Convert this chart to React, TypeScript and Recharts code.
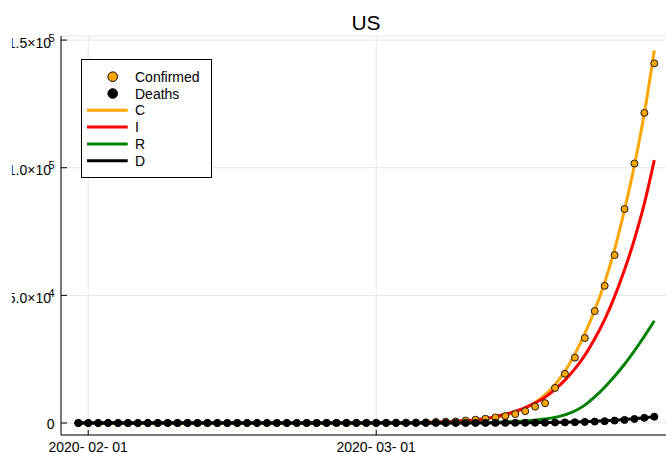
import { ComposedChart, Line, XAxis, YAxis, CartesianGrid, Legend } from "recharts";

// days shown on the x axis (Jan 31 .. Mar 29, 2020)
const dates = [
  "2020-01-31",
  "2020-02-01", "2020-02-02", "2020-02-03", "2020-02-04", "2020-02-05", "2020-02-06", "2020-02-07",
  "2020-02-08", "2020-02-09", "2020-02-10", "2020-02-11", "2020-02-12", "2020-02-13", "2020-02-14",
  "2020-02-15", "2020-02-16", "2020-02-17", "2020-02-18", "2020-02-19", "2020-02-20", "2020-02-21",
  "2020-02-22", "2020-02-23", "2020-02-24", "2020-02-25", "2020-02-26", "2020-02-27", "2020-02-28",
  "2020-02-29",
  "2020-03-01", "2020-03-02", "2020-03-03", "2020-03-04", "2020-03-05", "2020-03-06", "2020-03-07",
  "2020-03-08", "2020-03-09", "2020-03-10", "2020-03-11", "2020-03-12", "2020-03-13", "2020-03-14",
  "2020-03-15", "2020-03-16", "2020-03-17", "2020-03-18", "2020-03-19", "2020-03-20", "2020-03-21",
  "2020-03-22", "2020-03-23", "2020-03-24", "2020-03-25", "2020-03-26", "2020-03-27", "2020-03-28",
  "2020-03-29",
];

// observed
const confirmed = [
  7,
  8, 8, 11, 11, 11, 11, 11, 11, 11, 11, 12, 12, 13, 13, 13, 13, 13, 13, 13, 13, 15, 15, 15, 51, 51, 57, 58, 60, 68,
  74, 98, 118, 149, 217, 262, 402, 518, 583, 959, 1281, 1663, 2179, 2727, 3499, 4632, 6421, 7783, 13747, 19273,
  25600, 33276, 43847, 53740, 65778, 83836, 101657, 121478, 140886,
];
const deaths = [
  0,
  0, 0, 0, 0, 0, 0, 0, 0, 0, 0, 0, 0, 0, 0, 0, 0, 0, 0, 0, 0, 0, 0, 0, 0, 0, 0, 0, 0, 1,
  1, 6, 7, 11, 12, 14, 17, 21, 22, 28, 36, 40, 47, 54, 63, 85, 108, 118, 200, 244,
  307, 427, 552, 706, 942, 1209, 1581, 2026, 2467,
];

// model curves
const modelC = [
  5, 5, 5, 5, 6, 6, 6, 6, 6, 7, 7, 7, 7, 8, 8, 8, 9, 9, 9, 10, 10,
  11, 12, 13, 14, 16, 18, 22, 30, 40, 54,
  74, 100, 135, 180, 240, 320, 430, 600, 830, 1150,
  1600, 2200, 3050, 4200, 5800, 8000, 11000, 15000, 20300, 27000,
  35000, 44200, 55000, 68000, 83500, 101000, 121500, 146000,
];
const modelI = [
  3, 3, 3, 3, 3, 4, 4, 4, 4, 4, 5, 5, 5, 5, 6, 6, 6, 7, 7, 8, 8, 9, 10, 11, 12, 14,
  17, 22, 30, 41, 56, 77, 105, 144, 197, 270, 370, 505, 690, 950, 1300,
  1800, 2500, 3400, 4600, 6000, 7900, 10100, 13200, 16800, 21200,
  26500, 33000, 40500, 49500, 60000, 72000, 86000, 103000,
];
const modelR = [
  0, 0, 0, 0, 0, 0, 0, 0, 0, 0, 0, 0, 0, 0, 0, 0, 0, 0, 0, 0, 0, 0, 0, 0, 0, 0,
  1, 2, 3, 4, 6, 8, 11, 16, 22, 30, 42, 58, 80, 110, 155,
  215, 300, 420, 580, 800, 1100, 1550, 2200, 3200, 4700,
  7000, 10200, 14000, 18300, 23000, 28300, 34000, 40000,
];
const modelD = [
  0, 0, 0, 0, 0, 0, 0, 0, 0, 0, 0, 0, 0, 0, 0, 0, 0, 0, 0, 0, 0, 0, 0, 0, 0, 0, 0, 0, 0, 0, 0, 0,
  1, 2, 3, 4, 5, 7, 10, 14, 19, 26, 36, 50, 70, 95, 130, 175, 235, 310, 410, 530,
  680, 870, 1100, 1380, 1700, 2080, 2500,
];

const xTicks = [0, 29];
const xTickLabels = ["2020- 02- 01", "2020- 03- 01"];
const yTicks = [0, 50000, 100000, 150000];
const yTickLabels = ["0", "5.0×10", "1.0×10", "1.5×10"];
const yTickPowers = ["", "4", "5", "5"];

const seriesNames = ["Confirmed", "Deaths", "C", "I", "R", "D"];
const seriesColors = ["#FFA500", "#000000", "#FFA500", "#FF0000", "#008000", "#000000"];

const DAY = 86400000;
const origin = Date.parse("2020-02-01");

const data = dates.map((d, i) => ({
  day: (Date.parse(d) - origin) / DAY,
  confirmed: confirmed[i],
  deaths: deaths[i],
  C: modelC[i],
  I: modelI[i],
  R: modelR[i],
  D: modelD[i],
}));

const XTick = (props: any) => {
  const { x, y, payload } = props;
  const i = xTicks.indexOf(payload.value);
  return (
    <g>
      <line x1={x} x2={x} y1={y} y2={y - 5} stroke="#000" />
      <text x={x} y={y + 16.5} textAnchor="middle" fontSize={14} fill="#000">
        {xTickLabels[i]}
      </text>
    </g>
  );
};

const YTick = (props: any) => {
  const { x, y, payload } = props;
  const i = yTicks.indexOf(payload.value);
  const pow = yTickPowers[i];
  return (
    <g>
      <line x1={x} x2={x + 6} y1={y} y2={y} stroke="#000" />
      {pow ? (
        <>
          <text x={x - 10} y={y + 7.7} textAnchor="end" fontSize={14} fill="#000">
            {yTickLabels[i]}
          </text>
          <text x={x - 12.5} y={y + 1.7} fontSize={11} fill="#000">
            {pow}
          </text>
        </>
      ) : (
        <text x={x - 6.5} y={y + 6.3} textAnchor="end" fontSize={14} fill="#000">
          {yTickLabels[i]}
        </text>
      )}
    </g>
  );
};

const LegendBox = () => (
  <svg width={131} height={120}>
    <rect x={0.5} y={0.5} width={130} height={118} fill="#fff" stroke="#000" />
    {seriesNames.map((name, i) => {
      const cy = 17.7 + i * 16.8;
      return (
        <g key={name}>
          {i < 2 ? (
            <circle cx={31.7} cy={cy} r={4.8} fill={seriesColors[i]} stroke="#000" />
          ) : (
            <line x1={6} x2={46.7} y1={cy} y2={cy} stroke={seriesColors[i]} strokeWidth={3} />
          )}
          <text x={54} y={cy + 5} fontSize={14} fill="#000">
            {name}
          </text>
        </g>
      );
    })}
  </svg>
);

const App = () => {
  return (
    <div
      style={{
        position: "fixed",
        left: 0,
        top: 0,
        width: 666,
        height: 452,
        overflow: "hidden",
        background: "#fff",
        fontFamily: "'Liberation Sans', Arial, sans-serif",
      }}
    >
      <div style={{ position: "absolute", left: 12, top: 0, width: 654, height: 452, overflow: "hidden" }}>
        <ComposedChart width={668} height={452} data={data} margin={{ top: 36, right: 8.4, bottom: 0, left: 0 }}>
          <CartesianGrid stroke="#e6e6e6" />
          <XAxis
            dataKey="day"
            type="number"
            domain={[-2.74, 58.74]}
            ticks={xTicks}
            allowDataOverflow
            interval={0}
            height={17}
            tickSize={0}
            tickMargin={0}
            tickLine={false}
            axisLine={{ stroke: "#000" }}
            tick={<XTick />}
          />
          <YAxis
            type="number"
            domain={[-4700, 151600]}
            ticks={yTicks}
            allowDataOverflow
            interval={0}
            width={49}
            tickSize={0}
            tickMargin={0}
            tickLine={false}
            axisLine={{ stroke: "#000" }}
            tick={<YTick />}
          />
          <Legend
            layout="vertical"
            align="center"
            verticalAlign="middle"
            wrapperStyle={{ left: 69, top: 59, width: 131, height: 120 }}
            content={() => <LegendBox />}
          />
          <Line
            dataKey="confirmed"
            stroke="none"
            dot={{ r: 3.5, fill: seriesColors[0], stroke: "#1a1a1a", strokeWidth: 1 }}
            activeDot={false}
            isAnimationActive={false}
          />
          <Line
            dataKey="deaths"
            stroke="none"
            dot={{ r: 3.5, fill: seriesColors[1], stroke: "#000", strokeWidth: 1 }}
            activeDot={false}
            isAnimationActive={false}
          />
          <Line dataKey="C" type="monotone" stroke={seriesColors[2]} strokeWidth={3} dot={false} activeDot={false} isAnimationActive={false} />
          <Line dataKey="I" type="monotone" stroke={seriesColors[3]} strokeWidth={3} dot={false} activeDot={false} isAnimationActive={false} />
          <Line dataKey="R" type="monotone" stroke={seriesColors[4]} strokeWidth={3} dot={false} activeDot={false} isAnimationActive={false} />
          <Line dataKey="D" type="monotone" stroke={seriesColors[5]} strokeWidth={3} dot={false} activeDot={false} isAnimationActive={false} />
        </ComposedChart>
      </div>
      <svg style={{ position: "absolute", left: 0, top: 0 }} width={666} height={36}>
        <text x={366} y={30} textAnchor="middle" fontSize={21} fill="#000">
          US
        </text>
      </svg>
    </div>
  );
};

export default App;
